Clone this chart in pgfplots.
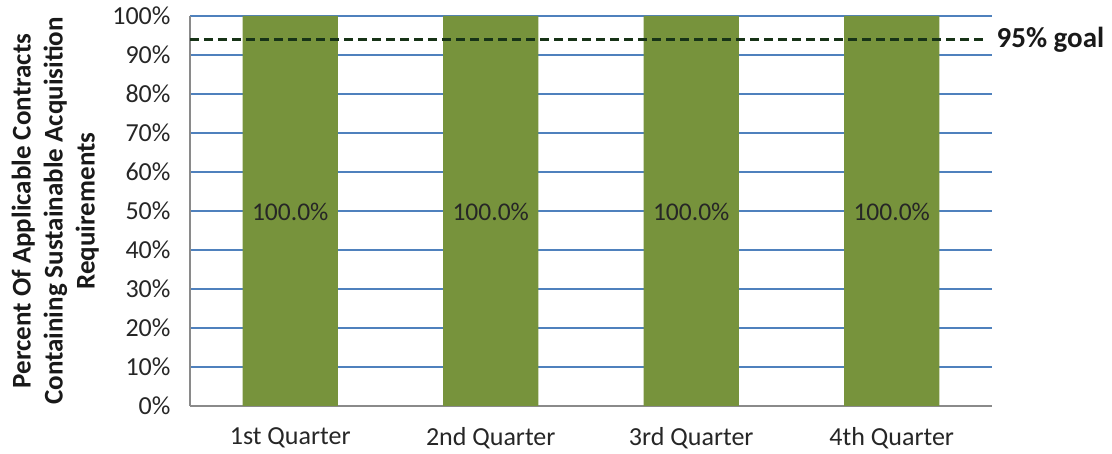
\documentclass[border=0pt]{standalone}
\usepackage{pgfplots}
\pgfplotsset{compat=1.18}
\usepackage{fontspec}
\setmainfont{Carlito}
\definecolor{bargreen}{HTML}{77933C}
\definecolor{gridblue}{HTML}{4F81BD}
\definecolor{axgray}{HTML}{8A8A8A}
\definecolor{goalgreen}{HTML}{173317}
\begin{document}
\begin{tikzpicture}
\begin{axis}[
  at={(190pt,48pt)}, anchor=south west,
  scale only axis, width=802pt, height=390pt,
  xmin=-0.5, xmax=3.5, ymin=0, ymax=100,
  /pgf/number format/assume math mode=true,
  ytick={0,10,...,100},
  yticklabel={\pgfmathprintnumber{\tick}\%},
  xtick={0,1,2,3},
  xticklabels={1st Quarter,2nd Quarter,3rd Quarter,4th Quarter},
  tick style={draw=none},
  ymajorgrids, grid style={gridblue, line width=1.6pt},
  axis x line*=bottom, axis y line*=left,
  axis line style={axgray, line width=1.6pt},
  ticklabel style={font=\fontsize{26}{30}\selectfont, text=black!85},
  yticklabel style={xshift=-16pt},
  xticklabel style={yshift=-18pt},
  ylabel={Percent Of Applicable Contracts\\Containing Sustainable Acquisition\\Requirements},
  ylabel style={at={(axis description cs:-0.168,0.5)}, anchor=center, align=center,
    font=\bfseries\fontsize{27}{32}\selectfont, text=black!90},
  clip=false,
]
\addplot[ybar, bar width=0.474, fill=bargreen, draw=none,
  nodes near coords={\pgfmathprintnumber[fixed,fixed zerofill,precision=1]{\pgfplotspointmeta}\%},
  nodes near coords style={anchor=center, yshift=-196pt, font=\fontsize{25.5}{30}\selectfont, text=black!85}]
  coordinates {(0,100) (1,100) (2,100) (3,100)};
\addplot[goalgreen, line width=2.6pt, dash pattern=on 9pt off 5pt]
  coordinates {(-0.5,94) (3.455,94)}
  node[anchor=west, xshift=9pt, font=\bfseries\fontsize{29}{32}\selectfont, text=black!90] {95\% goal};
\end{axis}
\pgfresetboundingbox
\path (0,0) rectangle (1112pt,454pt);
\end{tikzpicture}
\end{document}
